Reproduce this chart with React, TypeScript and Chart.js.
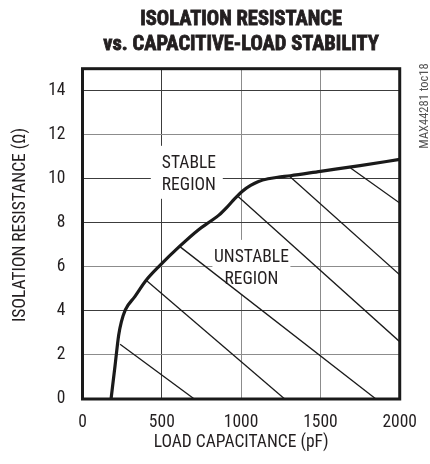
import React, { useEffect, useRef } from 'react';
import { Chart, registerables } from 'chart.js';

Chart.register(...registerables);

// ---- data ----
const capacitancePF = [180, 205, 228, 245, 270, 330, 400, 490, 610, 730, 805, 860, 910, 960, 1010, 1060, 1110, 1170, 1230, 1310, 1500, 1750, 2000];
const resistanceOhm = [0, 1.5, 2.9, 3.5, 4.05, 4.65, 5.38, 6.08, 6.92, 7.68, 8.06, 8.35, 8.7, 9.1, 9.45, 9.7, 9.88, 10.0, 10.07, 10.14, 10.34, 10.6, 10.88];

const hatchStartX = [237, 403, 614, 981, 1307, 1690];
const hatchStartY = [2.49, 5.38, 6.92, 9.2, 10.1, 10.49];
const hatchEndX = [705, 1275, 1850, 2000, 2000, 2000];
const hatchEndY = [0, 0, 0, 2.6, 5.64, 8.9];

const xTicks = [0, 500, 1000, 1500, 2000];
const yTicks = [0, 2, 4, 6, 8, 10, 12, 14];
const xRange = [0, 2000];
const yRange = [0, 15];

const titleLines = ['ISOLATION RESISTANCE', 'vs. CAPACITIVE-LOAD STABILITY'];
const xTitle = 'LOAD CAPACITANCE (pF)';
const yTitle = 'ISOLATION RESISTANCE (\u03A9)';
const tocLabel = 'MAX44281 toc18';
const stableLabel = ['STABLE', 'REGION'];
const unstableLabel = ['UNSTABLE', 'REGION'];

const FONT = "'Roboto Condensed', 'DejaVu Sans Condensed', sans-serif";
const TEXT = '#231f20';
const GRID_DARK = '#3c3c3c';
const GRID_LIGHT = '#8c8c8c';

export default function App() {
  const ref = useRef<HTMLCanvasElement>(null);

  useEffect(() => {
    if (!ref.current) return;

    const hatchSets = hatchStartX.map((sx, i) => ({
      data: [
        { x: sx, y: hatchStartY[i] },
        { x: hatchEndX[i], y: hatchEndY[i] },
      ],
      borderColor: '#1a1a1a',
      borderWidth: 1.3,
      pointRadius: 0,
      tension: 0,
    }));

    const regionPlugin = {
      id: 'regions',
      beforeDatasetsDraw(chart: any) {
        const { ctx, scales } = chart;
        const x = scales.x, y = scales.y;
        ctx.save();
        ctx.fillStyle = '#ffffff';
        const sx = x.getPixelForValue(500);
        const sy = y.getPixelForValue(10);
        ctx.fillRect(sx - 11, sy - 33, 72, 53);
        const ux = x.getPixelForValue(1065);
        const uy = y.getPixelForValue(6);
        ctx.fillRect(ux - 39, uy - 27, 78, 55);
        ctx.restore();
      },
      afterDatasetsDraw(chart: any) {
        const { ctx, chartArea, scales } = chart;
        const x = scales.x, y = scales.y;
        ctx.save();
        ctx.strokeStyle = '#1a1a1a';
        ctx.lineWidth = 3;
        ctx.strokeRect(chartArea.left, chartArea.top, chartArea.right - chartArea.left, chartArea.bottom - chartArea.top);
        ctx.fillStyle = TEXT;
        ctx.font = `17.5px ${FONT}`;
        ctx.textBaseline = 'alphabetic';
        ctx.textAlign = 'left';
        const sx = x.getPixelForValue(500);
        const sy = y.getPixelForValue(10);
        ctx.fillText(stableLabel[0], sx, sy - 11);
        ctx.fillText(stableLabel[1], sx, sy + 10.7);
        ctx.textAlign = 'center';
        const ux = x.getPixelForValue(1065);
        const uy = y.getPixelForValue(6);
        ctx.fillText(unstableLabel[0], ux, uy - 5.3);
        ctx.fillText(unstableLabel[1], ux, uy + 17);
        ctx.restore();
      },
      afterDraw(chart: any) {
        const { ctx, chartArea } = chart;
        const cx = (chartArea.left + chartArea.right) / 2;
        ctx.save();
        ctx.fillStyle = TEXT;
        ctx.strokeStyle = TEXT;
        ctx.textAlign = 'center';
        ctx.textBaseline = 'alphabetic';
        ctx.font = `bold 20.5px ${FONT}`;
        ctx.lineWidth = 0.8;
        ctx.fillText(titleLines[0], cx, 25);
        ctx.strokeText(titleLines[0], cx, 25);
        ctx.fillText(titleLines[1], cx, 50);
        ctx.strokeText(titleLines[1], cx, 50);
        ctx.font = `17.5px ${FONT}`;
        ctx.fillText(xTitle, cx, 447);
        ctx.save();
        ctx.translate(24.5, 225);
        ctx.rotate(-Math.PI / 2);
        ctx.fillText(yTitle, 0, 0);
        ctx.restore();
        ctx.save();
        ctx.fillStyle = '#555555';
        ctx.font = `12.5px ${FONT}`;
        ctx.translate(428, 106);
        ctx.rotate(-Math.PI / 2);
        ctx.fillText(tocLabel, 0, 0);
        ctx.restore();
        ctx.restore();
      },
    };

    const chart = new Chart(ref.current, {
      type: 'line',
      data: {
        datasets: [
          {
            data: capacitancePF.map((v, i) => ({ x: v, y: resistanceOhm[i] })),
            borderColor: '#1a1a1a',
            borderWidth: 3.2,
            pointRadius: 0,
            cubicInterpolationMode: 'monotone',
          } as any,
          ...hatchSets,
        ],
      },
      options: {
        responsive: false,
        animation: false,
        devicePixelRatio: 1,
        layout: { padding: { left: 0, top: 68.7, right: 16.7, bottom: 0 } },
        plugins: {
          legend: { display: false },
          tooltip: { enabled: false },
          title: { display: false },
        },
        scales: {
          x: {
            type: 'linear',
            min: xRange[0],
            max: xRange[1],
            afterBuildTicks: (s: any) => {
              s.ticks = xTicks.map((v) => ({ value: v }));
            },
            afterFit: (s: any) => {
              s.height = 65;
            },
            border: { display: false },
            grid: {
              drawTicks: false,
              lineWidth: 1,
              color: (c: any) => (c.tick && c.tick.value === 500 ? GRID_DARK : GRID_LIGHT),
            },
            ticks: {
              padding: 13,
              color: TEXT,
              font: { family: FONT, size: 17.5 },
              maxRotation: 0,
              callback: (v: any) => String(v),
            },
          },
          y: {
            type: 'linear',
            min: yRange[0],
            max: yRange[1],
            afterBuildTicks: (s: any) => {
              s.ticks = yTicks.map((v) => ({ value: v }));
            },
            afterFit: (s: any) => {
              s.width = 82.5;
            },
            border: { display: false },
            grid: {
              drawTicks: false,
              lineWidth: 1,
              color: (c: any) =>
                c.tick && [4, 8, 10, 14].includes(c.tick.value) ? GRID_DARK : GRID_LIGHT,
            },
            ticks: {
              padding: 17,
              color: TEXT,
              font: { family: FONT, size: 17.5 },
              callback: (v: any) => String(v),
            },
          },
        },
      },
      plugins: [regionPlugin],
    } as any);

    return () => chart.destroy();
  }, []);

  return (
    <div style={{ position: 'absolute', left: 0, top: 0, width: 430, height: 464, background: '#fff' }}>
      <canvas ref={ref} width={430} height={464} style={{ display: 'block', width: 430, height: 464 }} />
    </div>
  );
}
